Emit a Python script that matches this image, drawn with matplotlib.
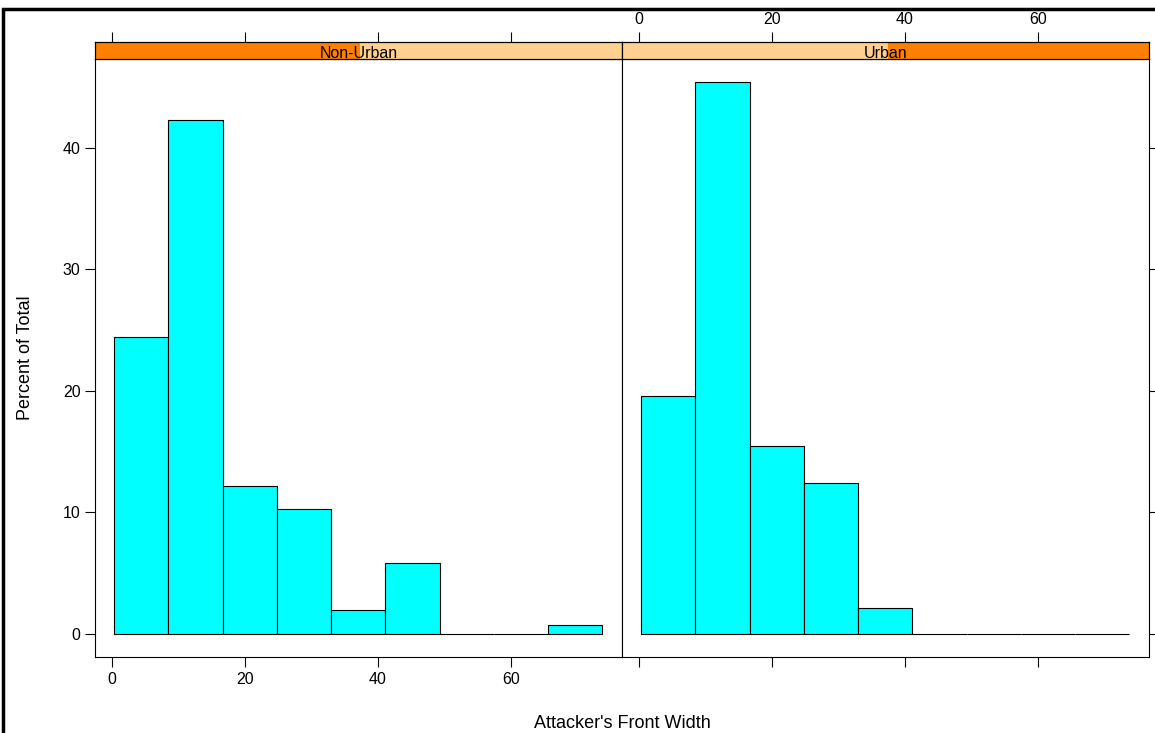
import matplotlib
matplotlib.use("Agg")
import matplotlib.pyplot as plt
from matplotlib.patches import Rectangle

W, H = 1155, 733
edges = [0.3 + 8.16 * i for i in range(10)]
panels = ["Non-Urban", "Urban"]
pct_nonurban = [24.4, 42.3, 12.2, 10.3, 2.0, 5.8, 0, 0, 0.7]
pct_urban = [19.6, 45.4, 15.5, 12.4, 2.1, 0, 0, 0, 0]
xticks = [0, 20, 40, 60]
yticks = [0, 10, 20, 30, 40]

plt.rcParams['font.family'] = ['Liberation Sans', 'DejaVu Sans']
fig = plt.figure(figsize=(W / 100, H / 100), dpi=100)

def box(x0, y0, x1, y1):
    return [x0 / W, 1 - y1 / H, (x1 - x0) / W, (y1 - y0) / H]

# outer frame
fig.patches.append(Rectangle((3 / W, -0.1), 1.2, 1 - 9 / H + 0.1, transform=fig.transFigure,
                             fill=False, lw=2.5, ec='black'))

xl = (-2.56, 76.7)
for i, (name, vals) in enumerate(zip(panels, [pct_nonurban, pct_urban])):
    x0 = 95 + i * 527
    ax = fig.add_axes(box(x0, 59, x0 + 527, 657))
    widths = [edges[k + 1] - edges[k] for k in range(9)]
    ax.bar(edges[:-1], vals, width=widths, align='edge', color='cyan', edgecolor='black', lw=0.8)
    ax.set_xlim(*xl)
    ax.set_ylim(-1.9, 47.3)
    ax.set_xticks(xticks)
    ax.set_yticks(yticks)
    ax.tick_params(direction='out', length=7, labelsize=11.5, color='black',
                   left=(i == 0), right=(i == 1), bottom=True, top=False,
                   labelleft=(i == 0), labelright=False, labelbottom=(i == 0))
    if i == 0:
        ax.set_ylabel("Percent of Total", fontsize=13)
        ax.yaxis.set_label_coords(-0.115, 0.5)
    # strip
    sax = fig.add_axes(box(x0, 42, x0 + 527, 59))
    sax.set_xlim(0, 1)
    sax.set_ylim(0, 1)
    sax.set_facecolor('#ffd08f')
    sax.axvspan(0.0 if i == 0 else 0.505, 0.503 if i == 0 else 1.0, color='#ff7f00', lw=0)
    sax.text(0.5, 0.3, name, ha='center', va='center', fontsize=11.5)
    sax.set_yticks([])
    # top axis ticks on strip
    tax = sax.twiny()
    tax.set_xlim(*xl)
    tax.set_xticks(xticks)
    tax.tick_params(direction='out', length=7, labelsize=11.5, labeltop=(i == 1))
    sax.set_xticks([])

fig.text(622 / W, 1 - 723 / H, "Attacker's Front Width",
         ha='center', va='center', fontsize=13)
fig.savefig("out.png", dpi=100)
